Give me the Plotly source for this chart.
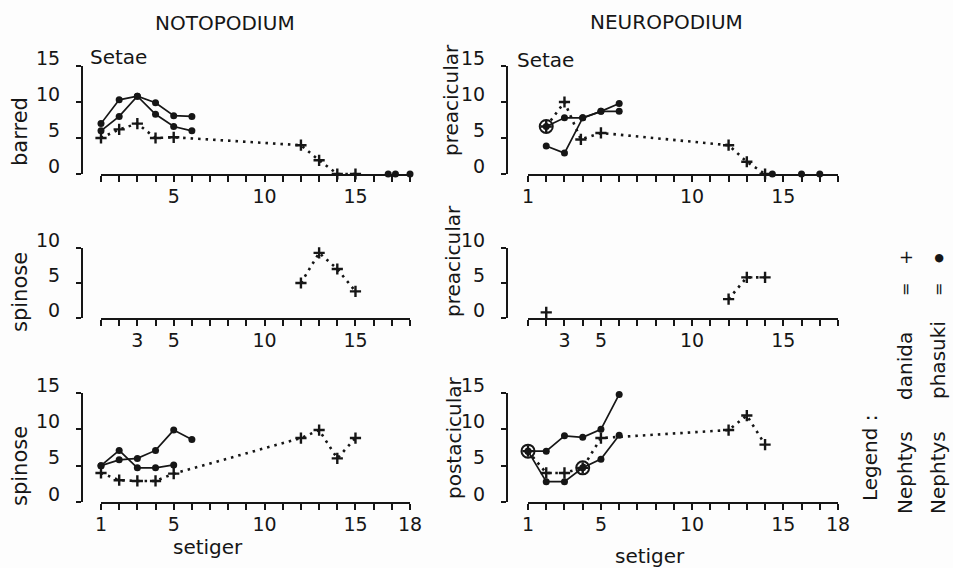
import plotly.graph_objects as go

W, H = 953, 568
INK = "#161616"
FONT = "DejaVu Sans"

# ---- data: number of setae per setiger ----
setiger = list(range(1, 19))

# Notopodium, barred setae
noto_barred_danida_x = [1, 2, 3, 4, 5, 12, 13, 14, 15]
noto_barred_danida_y = [5, 6.2, 7, 5, 5.1, 4, 1.9, 0, 0]
noto_barred_phasuki_x = [1, 2, 3, 4, 5, 6]
noto_barred_phasuki_a = [7, 10.3, 10.8, 9.9, 8.1, 8]
noto_barred_phasuki_b = [6, 8, 10.8, 8.3, 6.6, 6]
noto_barred_phasuki_zero_x = [16.8, 17.2, 18]

# Notopodium, spinose setae (posterior group)
noto_spin1_danida_x = [12, 13, 14, 15]
noto_spin1_danida_y = [5, 9.3, 7, 3.8]

# Notopodium, spinose setae
noto_spin2_danida_x = [1, 2, 3, 4, 5, 12, 13, 14, 15]
noto_spin2_danida_y = [4, 3, 2.9, 2.9, 3.9, 8.8, 9.9, 6, 8.8]
noto_spin2_phasuki_a_x = [1, 2, 3, 4, 5]
noto_spin2_phasuki_a = [5, 7.1, 4.7, 4.7, 5.1]
noto_spin2_phasuki_b_x = [1, 2, 3, 4, 5, 6]
noto_spin2_phasuki_b = [5, 5.8, 6, 7.1, 9.9, 8.6]

# Neuropodium, preacicular setae
neuro_pre1_danida_x = [2, 3, 3.9, 5, 12, 13, 14]
neuro_pre1_danida_y = [6.6, 10, 4.8, 5.7, 4, 1.7, 0]
neuro_pre1_phasuki_x = [2, 3, 4, 5, 6]
neuro_pre1_phasuki_a = [6.6, 7.8, 7.8, 8.7, 9.8]
neuro_pre1_phasuki_b = [3.9, 2.9, 7.8, 8.7, 8.7]
neuro_pre1_phasuki_zero_x = [14.4, 16, 17]
neuro_pre1_shared_x = [2]
neuro_pre1_shared_y = [6.6]

# Neuropodium, preacicular setae (posterior group)
neuro_pre2_danida_x = [2, None, 12, 13, 14]
neuro_pre2_danida_y = [0.8, None, 2.7, 5.8, 5.8]

# Neuropodium, postacicular setae
neuro_post_danida_x = [1, 2, 3, 4, 5, 12, 13, 14]
neuro_post_danida_y = [7, 4, 4, 4.7, 8.8, 9.9, 11.9, 7.9]
neuro_post_phasuki_x = [1, 2, 3, 4, 5, 6]
neuro_post_phasuki_a = [7, 7, 9.1, 8.9, 10, 14.8]
neuro_post_phasuki_b = [7, 2.8, 2.8, 4.7, 5.9, 9.2]
neuro_post_shared_x = [1, 4]
neuro_post_shared_y = [7, 4.7]

# tick labels shown on each x axis
labels_top_left = [5, 10, 15]
labels_top_right = [1, 10, 15]
labels_middle = [3, 5, 10, 15]
labels_bottom = [1, 5, 10, 15, 18]


def px(x):
    return x / W


def py(y):
    return 1 - y / H


fig = go.Figure()


def danida(x, y, n):
    fig.add_trace(go.Scatter(
        x=x, y=y, xaxis=f"x{n}", yaxis=f"y{n}", mode="lines+markers",
        line=dict(color=INK, width=2.6, dash="2.5px,5px"),
        marker=dict(symbol="cross-thin", size=8, color=INK,
                    line=dict(color=INK, width=2.4)),
        cliponaxis=False, connectgaps=False, showlegend=False, hoverinfo="skip"))


def phasuki(x, y, n, lines=True):
    fig.add_trace(go.Scatter(
        x=x, y=y, xaxis=f"x{n}", yaxis=f"y{n}",
        mode="lines+markers" if lines else "markers",
        line=dict(color=INK, width=1.7),
        marker=dict(symbol="circle", size=7, color=INK),
        cliponaxis=False, showlegend=False, hoverinfo="skip"))


def shared(x, y, n):
    fig.add_trace(go.Scatter(
        x=x, y=y, xaxis=f"x{n}", yaxis=f"y{n}", mode="markers",
        marker=dict(symbol="circle-open", size=13, color=INK,
                    line=dict(color=INK, width=2)),
        cliponaxis=False, showlegend=False, hoverinfo="skip"))


# panel 1: notopodium barred
danida(noto_barred_danida_x, noto_barred_danida_y, 1)
phasuki(noto_barred_phasuki_x, noto_barred_phasuki_a, 1)
phasuki(noto_barred_phasuki_x, noto_barred_phasuki_b, 1)
phasuki(noto_barred_phasuki_zero_x, [0] * len(noto_barred_phasuki_zero_x), 1, lines=False)

# panel 2: neuropodium preacicular
danida(neuro_pre1_danida_x, neuro_pre1_danida_y, 2)
phasuki(neuro_pre1_phasuki_x, neuro_pre1_phasuki_a, 2)
phasuki(neuro_pre1_phasuki_x, neuro_pre1_phasuki_b, 2)
phasuki(neuro_pre1_phasuki_zero_x, [0] * len(neuro_pre1_phasuki_zero_x), 2, lines=False)
shared(neuro_pre1_shared_x, neuro_pre1_shared_y, 2)

# panel 3: notopodium spinose
danida(noto_spin1_danida_x, noto_spin1_danida_y, 3)

# panel 4: neuropodium preacicular
danida(neuro_pre2_danida_x, neuro_pre2_danida_y, 4)

# panel 5: notopodium spinose
danida(noto_spin2_danida_x, noto_spin2_danida_y, 5)
phasuki(noto_spin2_phasuki_a_x, noto_spin2_phasuki_a, 5)
phasuki(noto_spin2_phasuki_b_x, noto_spin2_phasuki_b, 5)

# panel 6: neuropodium postacicular
danida(neuro_post_danida_x, neuro_post_danida_y, 6)
phasuki(neuro_post_phasuki_x, neuro_post_phasuki_a, 6)
phasuki(neuro_post_phasuki_x, neuro_post_phasuki_b, 6)
shared(neuro_post_shared_x, neuro_post_shared_y, 6)

# panel geometry in pixels: x span and y-axis position per column,
# (bottom, top, y max) per row
left = dict(x0=101, x1=410, yline=82)
right = dict(x0=528, x1=838, yline=507)
rows = [(174, 66, 15), (318, 248, 10), (502, 393, 15)]
x_labels = [labels_top_left, labels_top_right, labels_middle, labels_middle,
            labels_bottom, labels_bottom]

layout = dict(
    template="none",
    width=W, height=H,
    margin=dict(l=0, r=0, t=0, b=0, pad=0, autoexpand=False),
    paper_bgcolor="#fdfdfd", plot_bgcolor="rgba(0,0,0,0)",
    font=dict(family=FONT, color=INK, size=19),
    showlegend=False,
)

n = 0
for ybot, ytop, ymax in rows:
    for col in (left, right):
        n += 1
        suffix = "" if n == 1 else str(n)
        labels = x_labels[n - 1]
        layout["xaxis" + suffix] = dict(
            domain=[px(col["x0"]), px(col["x1"])], range=[1, 18],
            anchor="y" + suffix, showline=True, linewidth=2.2, linecolor=INK,
            ticks="outside", ticklen=6, tickwidth=1.6, tickcolor=INK,
            tickvals=setiger,
            ticktext=[str(v) if v in labels else "" for v in setiger],
            ticklabelstandoff=-2,
            showgrid=False, zeroline=False, fixedrange=True, automargin=False,
            tickfont=dict(size=19, family=FONT, color=INK),
        )
        layout["yaxis" + suffix] = dict(
            domain=[py(ybot), py(ytop)], range=[0, ymax],
            anchor="free", position=px(col["yline"]),
            showline=True, linewidth=2.2, linecolor=INK,
            ticks="outside", ticklen=5, tickwidth=1.6, tickcolor=INK,
            tickvals=list(range(0, ymax + 1, 5)),
            ticklabelstandoff=12, ticklabelshift=-8,
            showgrid=False, zeroline=False, fixedrange=True, automargin=False,
            tickfont=dict(size=19, family=FONT, color=INK),
        )

fig.update_layout(**layout)


def text(s, x, y, size=20, angle=0):
    fig.add_annotation(text=s, x=px(x), y=py(y), xref="paper", yref="paper",
                       showarrow=False, textangle=angle, xanchor="center",
                       yanchor="middle", font=dict(family=FONT, size=size, color=INK))


text("NOTOPODIUM", 225, 23, size=20)
text("NEUROPODIUM", 666, 22, size=20)
text("Setae", 118, 57)
text("Setae", 545, 60)
text("barred", 20, 132, size=21, angle=-90)
text("spinose", 20, 292, size=21, angle=-90)
text("spinose", 20, 466, size=21, angle=-90)
text("preacicular", 451, 100, size=20, angle=-90)
text("preacicular", 453, 261, size=20, angle=-90)
text("postacicular", 454, 438, size=20, angle=-90)
text("setiger", 208, 547)
text("setiger", 650, 556)

# rotated key
text("Legend :", 870, 458, angle=-90)
text("Nephtys", 905, 473, angle=-90)
text("danida", 905, 366, angle=-90)
text("=", 905, 290, size=16, angle=-90)
text("+", 905, 258, size=18, angle=-90)
text("Nephtys", 938, 473, angle=-90)
text("phasuki", 938, 360, angle=-90)
text("=", 938, 290, size=16, angle=-90)
text("●", 938, 258, size=11, angle=-90)

fig.write_html("out.html")
